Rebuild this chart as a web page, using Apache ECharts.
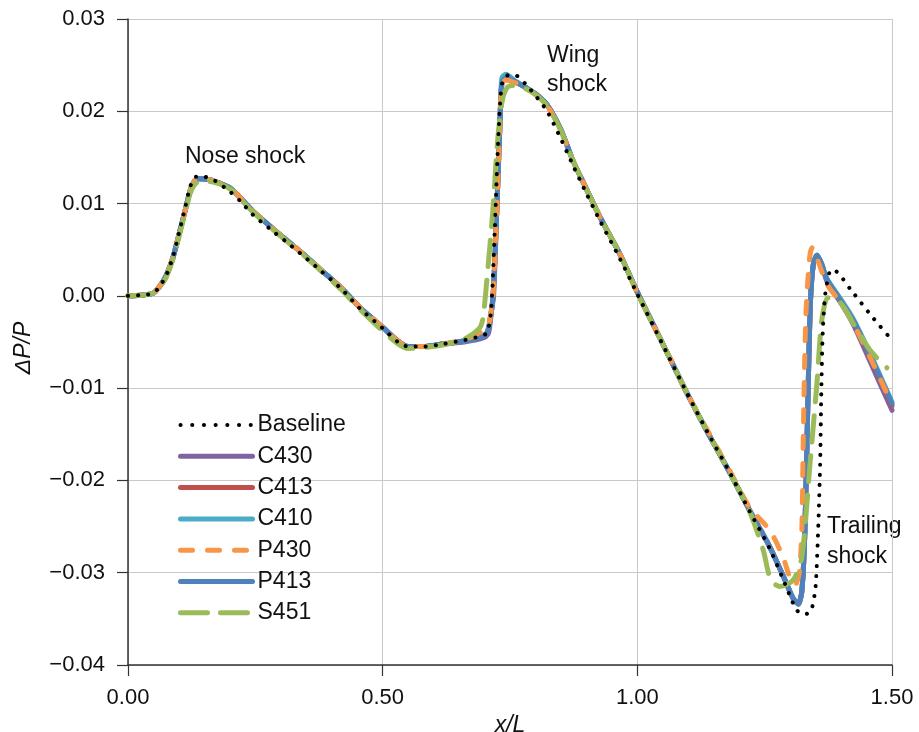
<!DOCTYPE html>
<html><head><meta charset="utf-8">
<script src="https://cdn.jsdelivr.net/npm/echarts@6/dist/echarts.min.js"></script>
<style>html,body{margin:0;padding:0;background:#fff}#c{width:919px;height:732px}</style>
</head><body><div id="c"></div>
<script>
const seriesNames = ['Baseline','C430','C413','C410','P430','P413','S451'];
const xTicks = [0, 0.5, 1.0, 1.5];
const yTicks = [-0.04,-0.03,-0.02,-0.01,0,0.01,0.02,0.03];

const Baseline = [[0,0],[0.03,0.0001],[0.05,0.0003],[0.063,0.0011],[0.075,0.0022],[0.088,0.0042],[0.10,0.0068],[0.112,0.0095],[0.122,0.0118],[0.133,0.0129],[0.15,0.0129],[0.17,0.0125],[0.20,0.0113],[0.22,0.0103],[0.245,0.0088],[0.28,0.0072],[0.312,0.0058],[0.345,0.0043],[0.377,0.0028],[0.42,0.0007],[0.456,-0.0014],[0.50,-0.0035],[0.53,-0.0050],[0.55,-0.0055],[0.58,-0.0055],[0.62,-0.0052],[0.66,-0.0048],[0.69,-0.0044],[0.705,-0.0040],[0.713,-0.0015],[0.72,0.0070],[0.727,0.0170],[0.735,0.0232],[0.75,0.0240],[0.765,0.0238],[0.783,0.0228],[0.80,0.0217],[0.823,0.0200],[0.85,0.0170],[0.874,0.0141],[0.90,0.0111],[0.927,0.0081],[0.966,0.0040],[1.0,0.0002],[1.05,-0.0053],[1.098,-0.0106],[1.14,-0.0150],[1.182,-0.0192],[1.22,-0.0233],[1.26,-0.0274],[1.29,-0.0312],[1.31,-0.0338],[1.323,-0.0345],[1.335,-0.0344],[1.343,-0.0338],[1.350,-0.0315],[1.355,-0.0254],[1.359,-0.0180],[1.361,-0.0110],[1.364,-0.0040],[1.369,0.0002],[1.378,0.0027],[1.385,0.0028],[1.42,0.0006],[1.46,-0.0022],[1.5,-0.0048]];

const C430 = [[0,0],[0.03,0.0001],[0.05,0.0003],[0.063,0.0011],[0.075,0.0022],[0.088,0.0041],[0.10,0.0066],[0.112,0.0092],[0.122,0.0114],[0.13,0.0124],[0.14,0.0127],[0.16,0.0126],[0.181,0.0122],[0.20,0.0117],[0.214,0.0110],[0.245,0.0092],[0.28,0.0075],[0.312,0.0060],[0.345,0.0045],[0.377,0.0029],[0.42,0.0008],[0.456,-0.0013],[0.50,-0.0034],[0.53,-0.0049],[0.55,-0.0055],[0.58,-0.0055],[0.62,-0.0052],[0.66,-0.0050],[0.70,-0.0045],[0.708,-0.0040],[0.713,-0.0020],[0.718,0.0002],[0.724,0.0092],[0.730,0.0182],[0.734,0.0230],[0.742,0.0236],[0.76,0.0232],[0.783,0.0225],[0.80,0.0219],[0.823,0.0207],[0.85,0.0180],[0.874,0.0146],[0.90,0.0116],[0.927,0.0085],[0.966,0.0045],[1.0,0.0004],[1.05,-0.0052],[1.098,-0.0106],[1.14,-0.0150],[1.182,-0.0192],[1.22,-0.0232],[1.26,-0.0272],[1.29,-0.0308],[1.306,-0.0328],[1.316,-0.0334],[1.323,-0.0320],[1.329,-0.0254],[1.335,-0.0110],[1.340,-0.0005],[1.346,0.0036],[1.353,0.0044],[1.362,0.0034],[1.372,0.0016],[1.40,-0.0008],[1.424,-0.0031],[1.46,-0.0075],[1.5,-0.0124]];

const C413 = [[0,0],[0.03,0.0001],[0.05,0.0003],[0.063,0.0011],[0.075,0.0022],[0.088,0.0041],[0.10,0.0066],[0.112,0.0092],[0.122,0.0114],[0.13,0.0124],[0.14,0.0127],[0.16,0.0126],[0.181,0.0122],[0.20,0.0117],[0.214,0.0110],[0.245,0.0092],[0.28,0.0075],[0.312,0.0060],[0.345,0.0045],[0.377,0.0029],[0.42,0.0008],[0.456,-0.0013],[0.50,-0.0034],[0.53,-0.0049],[0.55,-0.0055],[0.58,-0.0055],[0.62,-0.0052],[0.66,-0.0049],[0.69,-0.0045],[0.705,-0.0040],[0.712,-0.0022],[0.717,0.0002],[0.724,0.0092],[0.730,0.0182],[0.734,0.0230],[0.742,0.0236],[0.76,0.0232],[0.783,0.0225],[0.80,0.0219],[0.823,0.0207],[0.85,0.0180],[0.874,0.0146],[0.90,0.0116],[0.927,0.0085],[0.966,0.0045],[1.0,0.0004],[1.05,-0.0052],[1.098,-0.0106],[1.14,-0.0150],[1.182,-0.0192],[1.22,-0.0232],[1.26,-0.0272],[1.29,-0.0308],[1.306,-0.0328],[1.316,-0.0334],[1.323,-0.0320],[1.329,-0.0254],[1.335,-0.0110],[1.340,-0.0005],[1.346,0.0036],[1.353,0.0044],[1.362,0.0034],[1.372,0.0018],[1.40,-0.0006],[1.424,-0.0028],[1.46,-0.0070],[1.5,-0.0119]];

const C410 = [[0,0],[0.03,0.0001],[0.05,0.0003],[0.063,0.0011],[0.075,0.0022],[0.088,0.0041],[0.10,0.0066],[0.112,0.0092],[0.122,0.0114],[0.13,0.0124],[0.14,0.0127],[0.16,0.0126],[0.181,0.0122],[0.20,0.0117],[0.214,0.0110],[0.245,0.0092],[0.28,0.0075],[0.312,0.0060],[0.345,0.0045],[0.377,0.0029],[0.42,0.0008],[0.456,-0.0013],[0.50,-0.0034],[0.53,-0.0049],[0.55,-0.0055],[0.58,-0.0055],[0.62,-0.0052],[0.66,-0.0049],[0.69,-0.0045],[0.705,-0.0040],[0.712,-0.0022],[0.717,0.0002],[0.724,0.0092],[0.730,0.0185],[0.734,0.0236],[0.742,0.0240],[0.76,0.0233],[0.783,0.0225],[0.80,0.0219],[0.823,0.0207],[0.85,0.0180],[0.874,0.0146],[0.90,0.0116],[0.927,0.0085],[0.966,0.0045],[1.0,0.0004],[1.05,-0.0052],[1.098,-0.0106],[1.14,-0.0150],[1.182,-0.0192],[1.22,-0.0232],[1.26,-0.0272],[1.29,-0.0308],[1.306,-0.0328],[1.316,-0.0334],[1.323,-0.0320],[1.329,-0.0254],[1.335,-0.0110],[1.340,-0.0005],[1.346,0.0036],[1.353,0.0044],[1.362,0.0035],[1.372,0.0019],[1.40,-0.0004],[1.424,-0.0025],[1.46,-0.0066],[1.5,-0.0115]];

const P430 = [[0,0],[0.03,0.0001],[0.05,0.0003],[0.063,0.0011],[0.075,0.0022],[0.088,0.0041],[0.10,0.0066],[0.112,0.0092],[0.122,0.0114],[0.13,0.0124],[0.14,0.0127],[0.16,0.0126],[0.181,0.0122],[0.20,0.0117],[0.214,0.0110],[0.245,0.0092],[0.28,0.0075],[0.312,0.0060],[0.345,0.0045],[0.377,0.0029],[0.42,0.0008],[0.456,-0.0013],[0.50,-0.0034],[0.53,-0.0049],[0.55,-0.0055],[0.58,-0.0055],[0.62,-0.0052],[0.66,-0.0048],[0.69,-0.0040],[0.705,-0.0036],[0.712,-0.0020],[0.717,0.0003],[0.724,0.0092],[0.730,0.0182],[0.734,0.0229],[0.742,0.0234],[0.76,0.0231],[0.783,0.0224],[0.80,0.0218],[0.823,0.0206],[0.85,0.0179],[0.874,0.0146],[0.90,0.0116],[0.927,0.0085],[0.966,0.0045],[1.0,0.0003],[1.05,-0.0052],[1.098,-0.0106],[1.14,-0.0148],[1.182,-0.0190],[1.22,-0.0229],[1.26,-0.0254],[1.286,-0.0283],[1.30,-0.0306],[1.31,-0.0313],[1.318,-0.0300],[1.323,-0.0254],[1.326,-0.0146],[1.331,-0.0020],[1.338,0.0040],[1.343,0.0052],[1.35,0.0045],[1.372,0.0013],[1.40,-0.0008],[1.424,-0.0030],[1.46,-0.0070],[1.5,-0.0118]];

const P413 = [[0,0],[0.03,0.0001],[0.05,0.0003],[0.063,0.0011],[0.075,0.0022],[0.088,0.0041],[0.10,0.0066],[0.112,0.0092],[0.122,0.0114],[0.13,0.0124],[0.14,0.0127],[0.16,0.0126],[0.181,0.0122],[0.20,0.0117],[0.214,0.0110],[0.245,0.0092],[0.28,0.0075],[0.312,0.0060],[0.345,0.0045],[0.377,0.0029],[0.42,0.0008],[0.456,-0.0013],[0.50,-0.0034],[0.53,-0.0049],[0.55,-0.0055],[0.58,-0.0055],[0.62,-0.0052],[0.66,-0.0049],[0.69,-0.0045],[0.705,-0.0040],[0.712,-0.0022],[0.717,0.0002],[0.724,0.0092],[0.730,0.0182],[0.734,0.0230],[0.742,0.0236],[0.76,0.0232],[0.783,0.0225],[0.80,0.0219],[0.823,0.0207],[0.85,0.0180],[0.874,0.0146],[0.90,0.0116],[0.927,0.0085],[0.966,0.0045],[1.0,0.0004],[1.05,-0.0052],[1.098,-0.0106],[1.14,-0.0150],[1.182,-0.0192],[1.22,-0.0232],[1.26,-0.0272],[1.29,-0.0308],[1.306,-0.0328],[1.316,-0.0334],[1.323,-0.0320],[1.329,-0.0254],[1.335,-0.0110],[1.340,-0.0005],[1.346,0.0036],[1.353,0.0044],[1.362,0.0034],[1.372,0.0018],[1.40,-0.0006],[1.424,-0.0027],[1.46,-0.0068],[1.5,-0.0117]];

const S451 = [[0,0],[0.03,0.0001],[0.05,0.0003],[0.063,0.0010],[0.075,0.0020],[0.088,0.0039],[0.10,0.0064],[0.112,0.0090],[0.122,0.0111],[0.13,0.0120],[0.14,0.0124],[0.16,0.0124],[0.181,0.0121],[0.20,0.0116],[0.214,0.0109],[0.245,0.0091],[0.28,0.0074],[0.312,0.0059],[0.345,0.0044],[0.377,0.0028],[0.42,0.0006],[0.456,-0.0015],[0.50,-0.0038],[0.53,-0.0052],[0.55,-0.0057],[0.58,-0.0056],[0.62,-0.0053],[0.66,-0.0047],[0.69,-0.0035],[0.697,-0.0024],[0.705,0.0020],[0.716,0.0090],[0.726,0.0170],[0.735,0.0212],[0.745,0.0226],[0.757,0.0228],[0.783,0.0224],[0.80,0.0218],[0.823,0.0206],[0.85,0.0179],[0.874,0.0146],[0.90,0.0116],[0.927,0.0085],[0.966,0.0045],[1.0,0.0003],[1.05,-0.0052],[1.098,-0.0106],[1.14,-0.0150],[1.182,-0.0192],[1.22,-0.0233],[1.247,-0.0275],[1.262,-0.0308],[1.28,-0.0315],[1.306,-0.0308],[1.323,-0.0283],[1.339,-0.0182],[1.353,-0.0092],[1.362,-0.0027],[1.374,-0.0002],[1.39,-0.0003],[1.405,-0.0012],[1.424,-0.0030],[1.457,-0.0059],[1.49,-0.0078]];

const colors = {Baseline:'#000000',C430:'#8064a2',C413:'#c0504d',C410:'#4bacc6',P430:'#f79646',P413:'#4f81bd',S451:'#9bbb59'};
const dataMap = {Baseline, C430, C413, C410, P430, P413, S451};
const styles = {
  Baseline:{width:4,type:[0.1,10],cap:'round'},
  C430:{width:5,type:'solid',cap:'round'},
  C413:{width:5,type:'solid',cap:'round'},
  C410:{width:5,type:'solid',cap:'round'},
  P430:{width:5,type:[12,15],cap:'round'},
  P413:{width:5,type:'solid',cap:'round'},
  S451:{width:5,type:[26,14],cap:'round'}
};
const legendStyles = {
  Baseline:{width:4,type:[0.1,11.6],cap:'round'},
  C430:{width:5,type:'solid',cap:'round'},
  C413:{width:5,type:'solid',cap:'round'},
  C410:{width:5,type:'solid',cap:'round'},
  P430:{width:5,type:[12,15],cap:'round'},
  P413:{width:5,type:'solid',cap:'round'},
  S451:{width:5,type:[27,13],cap:'round'}
};
const zOrder = {C430:1,C413:2,C410:3,P413:4,P430:5,S451:6,Baseline:7};
const fmt = v => { const s = Math.abs(v) < 1e-9 ? '0.00' : Math.abs(v).toFixed(2); return v < -1e-9 ? '\u2212' + s : s; };

const chart = echarts.init(document.getElementById('c'), null, {renderer:'canvas'});
const font = 'Liberation Sans, Arial, Helvetica, sans-serif';
const tf = (t, l, tp) => ({type:'text',left:l,top:tp,style:{text:t,font:'23px '+font,fill:'#111'}});
chart.setOption({
  animation:false,
  backgroundColor:'#fff',
  grid:{left:128,right:27,top:19,bottom:67,containLabel:false,outerBoundsMode:'none'},
  xAxis:{type:'value',min:0,max:1.5,interval:0.5,
    name:'x/L',nameLocation:'middle',nameGap:37,
    nameTextStyle:{fontFamily:font,fontSize:23,fontStyle:'italic',color:'#111'},
    axisLine:{show:true,onZero:false,lineStyle:{color:'#333',width:1.5}},
    axisTick:{show:true,inside:false,length:11,lineStyle:{color:'#333',width:1.2}},
    axisLabel:{margin:22,fontFamily:font,fontSize:22,color:'#111',formatter:fmt},
    splitLine:{show:true,lineStyle:{color:'#c8c8c8',width:1}}},
  yAxis:{type:'value',min:-0.04,max:0.03,interval:0.01,
    axisLine:{show:true,onZero:false,lineStyle:{color:'#333',width:1.5}},
    axisTick:{show:true,inside:false,length:11,lineStyle:{color:'#333',width:1.2}},
    axisLabel:{margin:23,fontFamily:font,fontSize:22,color:'#111',formatter:fmt},
    splitLine:{show:true,lineStyle:{color:'#c8c8c8',width:1}}},
  legend:{orient:'vertical',left:178,top:413.5,padding:0,itemWidth:72,itemHeight:20,itemGap:8.3,
    itemStyle:{opacity:0},
    data:seriesNames.map(n => ({name:n, lineStyle:{width:legendStyles[n].width,type:legendStyles[n].type,cap:legendStyles[n].cap,color:colors[n]}})),
    textStyle:{fontFamily:font,fontSize:23,color:'#111',lineHeight:20,padding:0}},
  graphic:[
    tf('Nose shock',185,145),
    tf('Wing',547,44),
    tf('shock',547,73),
    tf('Trailing',827,515),
    tf('shock',827,545),
    {type:'text',x:24,y:348,rotation:Math.PI/2,style:{text:'\u0394P/P',font:'italic 23px '+font,fill:'#111',align:'center',verticalAlign:'middle'}}
  ],
  series: seriesNames.map(n => ({
    name:n,type:'line',data:dataMap[n],showSymbol:false,symbol:'none',
    smooth:0.25,z:zOrder[n],
    color:colors[n],
    lineStyle:{color:colors[n],width:styles[n].width,type:styles[n].type,cap:styles[n].cap,join:'round'}
  }))
});
</script></body></html>
